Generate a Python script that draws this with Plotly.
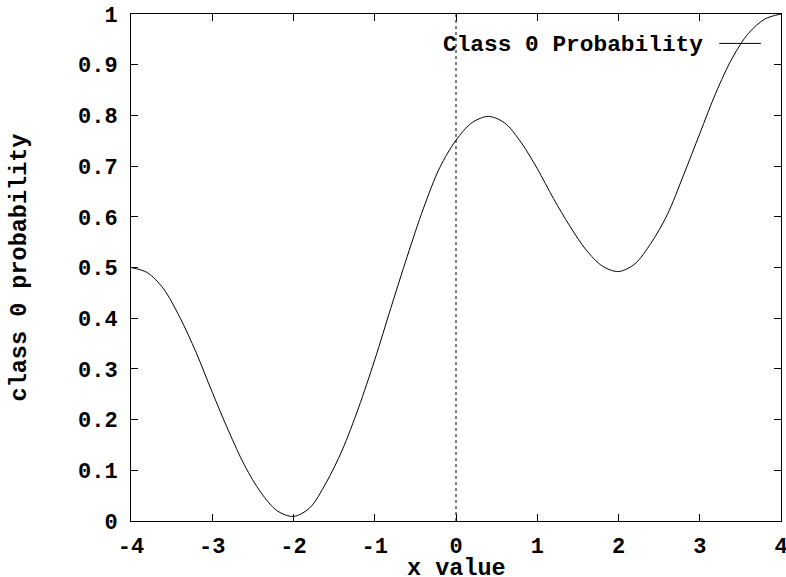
import plotly.graph_objects as go

# Values (x step 0.2)
x_vals = [-4.0, -3.8, -3.6, -3.4, -3.2, -3.0, -2.8, -2.6, -2.4, -2.2, -2.0,
          -1.8, -1.6, -1.4, -1.2, -1.0, -0.8, -0.6, -0.4, -0.2, 0.0,
          0.2, 0.4, 0.6, 0.8, 1.0, 1.2, 1.4, 1.6, 1.8, 2.0,
          2.2, 2.4, 2.6, 2.8, 3.0, 3.2, 3.4, 3.6, 3.8, 4.0]
y_vals = [0.500, 0.490, 0.458, 0.402, 0.333, 0.254, 0.178, 0.109, 0.056, 0.020, 0.009,
          0.026, 0.075, 0.140, 0.223, 0.318, 0.421, 0.522, 0.617, 0.697, 0.751,
          0.786, 0.798, 0.785, 0.747, 0.695, 0.636, 0.582, 0.535, 0.503, 0.492,
          0.507, 0.548, 0.604, 0.682, 0.764, 0.845, 0.913, 0.962, 0.990, 1.000]

x_ticks = [-4, -3, -2, -1, 0, 1, 2, 3, 4]
y_ticks = [0, 0.1, 0.2, 0.3, 0.4, 0.5, 0.6, 0.7, 0.8, 0.9, 1]
y_tick_labels = ["0", "0.1", "0.2", "0.3", "0.4", "0.5", "0.6", "0.7", "0.8", "0.9", "1"]

series_name = "Class 0 Probability"
x_title = "x value"
y_title = "class 0 probability"

FONT = "Liberation Mono"
fs_tick = 22
fs_title = 23.5
fs_key = 22.8

fig = go.Figure()
fig.add_trace(go.Scatter(x=x_vals, y=y_vals, mode="lines",
                         line=dict(color="black", width=1, shape="spline", smoothing=0.9),
                         showlegend=False, hoverinfo="skip"))

# zero axis (dotted vertical line at x=0)
fig.add_shape(type="line", xref="x", yref="paper", x0=0, x1=0, y0=0, y1=1,
              line=dict(color="black", width=1, dash="dot"), layer="below")

# gnuplot-style key: text then line sample
fig.add_annotation(xref="paper", yref="paper", x=0.883, y=0.938, xanchor="right", yanchor="middle",
                   text="<b>" + series_name + "</b>", showarrow=False,
                   font=dict(family=FONT, size=fs_key, color="black"))
fig.add_shape(type="line", xref="paper", yref="paper", x0=0.905, x1=0.969, y0=0.942, y1=0.942,
              line=dict(color="black", width=1))

# x axis title placed as annotation (below tick labels)
fig.add_annotation(xref="paper", yref="paper", x=0.5, y=-0.093, xanchor="center", yanchor="middle",
                   text="<b>" + x_title + "</b>", showarrow=False,
                   font=dict(family=FONT, size=fs_title, color="black"))

axis_common = dict(showline=True, linecolor="black", linewidth=1, mirror="ticks",
                   ticks="inside", ticklen=7, tickcolor="black", tickwidth=1,
                   showgrid=False, zeroline=False, ticklabeloverflow="allow",
                   automargin=False,
                   tickfont=dict(family=FONT, size=fs_tick, color="black", weight="bold"))

fig.update_xaxes(range=[-4, 4], tickvals=x_ticks, ticktext=[str(v) for v in x_ticks],
                 ticklabelstandoff=5,
                 **axis_common)
fig.update_yaxes(range=[0, 1], tickvals=y_ticks, ticktext=y_tick_labels,
                 ticklabelstandoff=8,
                 title=dict(text="<b>" + y_title + "</b>", standoff=44,
                            font=dict(family=FONT, size=fs_title, color="black")),
                 **axis_common)

fig.update_layout(width=786, height=577, margin=dict(l=131, r=5, t=14, b=56),
                  plot_bgcolor="white", paper_bgcolor="white", showlegend=False)

fig.write_html("out.html")
